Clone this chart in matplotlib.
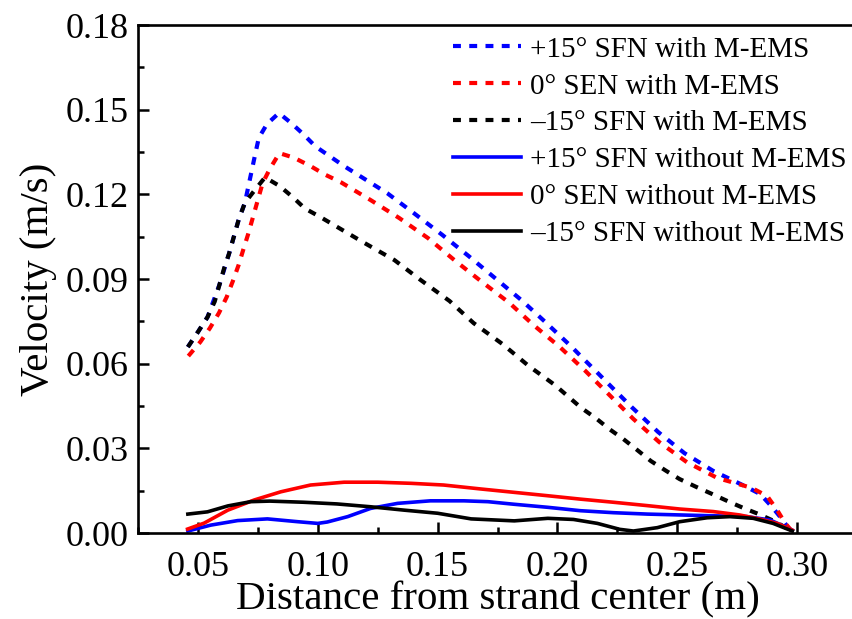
import matplotlib
matplotlib.use("Agg")
import matplotlib.pyplot as plt
from matplotlib.ticker import MultipleLocator

plt.rcParams['font.family'] = ['Liberation Serif', 'DejaVu Serif']

# dotted: with M-EMS
blue_dot_x = [0.0458, 0.050, 0.054, 0.059, 0.063, 0.067, 0.0696, 0.071, 0.0725, 0.074, 0.0754, 0.0788,
              0.0838, 0.089, 0.094, 0.099, 0.105, 0.111, 0.117, 0.129, 0.140, 0.152, 0.163, 0.174,
              0.185, 0.1954, 0.206, 0.211, 0.216, 0.221, 0.231, 0.242, 0.253, 0.265, 0.278, 0.2846,
              0.2896, 0.294, 0.297]
blue_dot_y = [0.0659, 0.0712, 0.0765, 0.088, 0.099, 0.111, 0.117, 0.1226, 0.1286, 0.1346, 0.140, 0.1449,
              0.1488, 0.1452, 0.1413, 0.137, 0.1335, 0.130, 0.1268, 0.1204, 0.1134, 0.1056, 0.0981, 0.0903,
              0.0825, 0.0744, 0.0659, 0.0616, 0.0574, 0.0531, 0.0446, 0.0358, 0.0283, 0.022, 0.0167, 0.0138,
              0.0092, 0.0046, 0.001]

red_dot_x = [0.046, 0.051, 0.055, 0.0588, 0.062, 0.0646, 0.067, 0.069, 0.071, 0.073, 0.075, 0.077,
             0.080, 0.084, 0.090, 0.097, 0.103, 0.1096, 0.122, 0.134, 0.146, 0.157, 0.168, 0.180,
             0.190, 0.201, 0.2117, 0.2217, 0.2317, 0.2425, 0.254, 0.2667, 0.281, 0.2875, 0.2917,
             0.295, 0.298]
red_dot_y = [0.0627, 0.0677, 0.0726, 0.078, 0.0836, 0.0893, 0.095, 0.1006, 0.106, 0.112, 0.118, 0.124,
             0.129, 0.1346, 0.133, 0.130, 0.127, 0.1243, 0.118, 0.1116, 0.1045, 0.0967, 0.0893, 0.0815,
             0.0737, 0.0659, 0.0574, 0.0489, 0.0404, 0.0322, 0.0251, 0.0195, 0.016, 0.0131, 0.0081,
             0.0035, 0.0005]

black_dot_x = [0.0458, 0.050, 0.054, 0.057, 0.059, 0.061, 0.063, 0.065, 0.067, 0.0696, 0.074, 0.078,
               0.084, 0.0896, 0.0946, 0.101, 0.107, 0.113, 0.119, 0.132, 0.143, 0.155, 0.165, 0.177,
               0.188, 0.199, 0.210, 0.216, 0.2217, 0.2275, 0.2333, 0.239, 0.2454, 0.251, 0.258,
               0.2646, 0.271, 0.2775, 0.284, 0.291, 0.298]
black_dot_y = [0.0659, 0.0712, 0.0765, 0.082, 0.088, 0.094, 0.099, 0.105, 0.111, 0.117, 0.1218, 0.126,
               0.123, 0.119, 0.115, 0.112, 0.109, 0.106, 0.103, 0.0967, 0.0896, 0.0822, 0.0744, 0.0670,
               0.0592, 0.0524, 0.0443, 0.0407, 0.0368, 0.0333, 0.0294, 0.0255, 0.022, 0.0191, 0.0163,
               0.0138, 0.0113, 0.0089, 0.0067, 0.004, 0.0005]

# solid: without M-EMS
blue_x = [0.0458, 0.0554, 0.0666, 0.079, 0.0917, 0.100, 0.104, 0.1125, 0.122, 0.1333, 0.147, 0.161,
          0.171, 0.1817, 0.196, 0.2096, 0.2233, 0.2375, 0.251, 0.265, 0.279, 0.2888, 0.298]
blue_y = [0.0007, 0.0028, 0.0044, 0.005, 0.004, 0.0034, 0.0039, 0.0058, 0.0087, 0.0105, 0.0114, 0.0114,
          0.0111, 0.0102, 0.0091, 0.0079, 0.0072, 0.0067, 0.0064, 0.0061, 0.0058, 0.0046, 0.001]

red_x = [0.0457, 0.0526, 0.0625, 0.0735, 0.0846, 0.097, 0.111, 0.125, 0.139, 0.1525, 0.168, 0.182,
         0.196, 0.2096, 0.2233, 0.2375, 0.251, 0.265, 0.276, 0.2846, 0.2917, 0.298]
red_y = [0.0014, 0.0035, 0.0081, 0.0117, 0.0146, 0.017, 0.018, 0.018, 0.0176, 0.017, 0.0156, 0.0144,
         0.0132, 0.012, 0.0109, 0.0097, 0.0085, 0.0076, 0.0064, 0.0049, 0.0034, 0.001]

black_x = [0.0458, 0.054, 0.0625, 0.072, 0.080, 0.094, 0.108, 0.122, 0.136, 0.150, 0.164, 0.182,
           0.196, 0.2067, 0.2167, 0.226, 0.2317, 0.2417, 0.251, 0.2625, 0.272, 0.2817, 0.290, 0.298]
black_y = [0.0067, 0.0075, 0.0096, 0.0111, 0.0113, 0.0109, 0.0103, 0.0093, 0.0081, 0.007, 0.0050, 0.0043,
           0.0052, 0.0048, 0.0034, 0.0013, 0.0007, 0.0019, 0.004, 0.0054, 0.0058, 0.0052, 0.0034, 0.0007]

labels = ["+15° SFN with M-EMS", "0° SEN with M-EMS", "–15° SFN with M-EMS",
          "+15° SFN without M-EMS", "0° SEN without M-EMS", "–15° SFN without M-EMS"]

fig = plt.figure(figsize=(8.53, 6.19), dpi=100)
ax = fig.add_axes([138 / 853, 86 / 619, 719 / 853, 508 / 619])

dot = (0, (1.9, 2.0))
ax.plot(blue_dot_x, blue_dot_y, color='#0000ff', lw=3, ls=dot, label=labels[0])
ax.plot(red_dot_x, red_dot_y, color='#ff0000', lw=3, ls=dot, label=labels[1])
ax.plot(black_dot_x, black_dot_y, color='black', lw=3, ls=dot, label=labels[2])
ax.plot(blue_x, blue_y, color='#0000ff', lw=2.6, label=labels[3])
ax.plot(red_x, red_y, color='#ff0000', lw=2.6, label=labels[4])
ax.plot(black_x, black_y, color='black', lw=2.6, label=labels[5])

ax.set_xlim(0.025, 0.325)
ax.set_ylim(0, 0.18)
ax.xaxis.set_major_locator(MultipleLocator(0.05))
ax.xaxis.set_minor_locator(MultipleLocator(0.025))
ax.yaxis.set_major_locator(MultipleLocator(0.03))
ax.yaxis.set_minor_locator(MultipleLocator(0.015))
ax.xaxis.set_major_formatter(plt.FormatStrFormatter('%.2f'))
ax.yaxis.set_major_formatter(plt.FormatStrFormatter('%.2f'))
ax.tick_params(which='both', direction='in', width=1.8, labelsize=26)
ax.tick_params(axis='x', pad=13)
ax.tick_params(axis='y', pad=7)
ax.tick_params(which='major', length=8)
ax.tick_params(which='minor', length=4.5)
for s in ax.spines.values():
    s.set_linewidth(1.9)
ax.spines['right'].set_visible(False)

ax.set_xlabel("Distance from strand center (m)", fontsize=29.5, labelpad=-2)
ax.set_ylabel("Velocity (m/s)", fontsize=29.5, labelpad=6)

ax.legend(loc='upper left', bbox_to_anchor=(0.438, 0.978), frameon=False, fontsize=21,
          borderpad=0, borderaxespad=0, handlelength=2.33, handletextpad=0.3, labelspacing=0.36)

fig.savefig("out.png", dpi=100)
